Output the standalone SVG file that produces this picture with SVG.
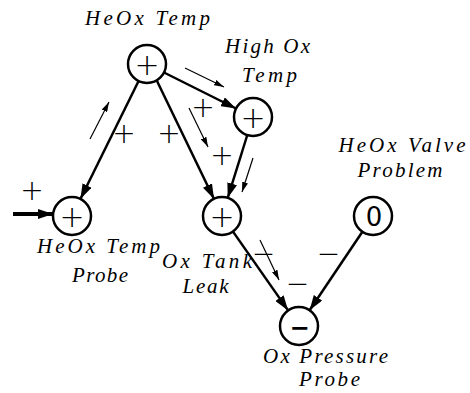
<svg xmlns="http://www.w3.org/2000/svg" width="470" height="393" viewBox="0 0 470 393">
<style>
.node circle{fill:#fff;stroke:#000;stroke-width:2.5}
.lbl{font-family:'Liberation Serif','DejaVu Sans',serif;font-style:italic;font-size:21px;fill:#000;text-anchor:middle}
.sym{font-family:'DejaVu Sans',sans-serif;font-weight:200;font-size:30px;fill:#000;text-anchor:middle}
.edge{stroke:#000;stroke-width:2.5;fill:none;marker-end:url(#big)}
.hint{stroke:#000;stroke-width:1.2;fill:none;marker-end:url(#small)}
.sign{font-family:'DejaVu Sans',sans-serif;font-weight:200;font-size:28px;fill:#000;text-anchor:middle}
</style>
<defs>
<marker id="big" markerUnits="userSpaceOnUse" markerWidth="16" markerHeight="10" refX="15" refY="5" orient="auto"><path d="M0,0 L15,5 L0,10 Z" fill="#000"/></marker>
<marker id="small" markerUnits="userSpaceOnUse" markerWidth="11" markerHeight="6" refX="10" refY="3" orient="auto"><path d="M0,0 L10,3 L0,6 Z" fill="#000"/></marker>
</defs>
<rect width="470" height="393" fill="#fff"/>
<g id="connectors">
<line class="edge" x1="138.6" y1="81" x2="80.4" y2="199"/>
<line class="edge" x1="157" y1="81" x2="214" y2="199"/>
<line class="edge" x1="164" y1="72.5" x2="236" y2="108.5"/>
<line class="edge" x1="247.3" y1="135" x2="227.7" y2="198"/>
<line class="edge" x1="233" y1="231.6" x2="288.1" y2="310.4"/>
<line class="edge" x1="362.4" y1="231.8" x2="309.6" y2="310.2"/>
<line x1="13" y1="214" x2="53" y2="214" stroke="#000" stroke-width="4" marker-end="url(#big)"/>
<line class="hint" x1="90" y1="139" x2="109" y2="102"/>
<line class="hint" x1="185" y1="68" x2="224" y2="87"/>
<line class="hint" x1="189" y1="108" x2="208" y2="147"/>
<line class="hint" x1="253" y1="158" x2="242" y2="192"/>
<line class="hint" x1="260" y1="240" x2="279" y2="280"/>
<text class="sign" x="124" y="143">+</text>
<text class="sign" x="169" y="143">+</text>
<text class="sign" x="203" y="117">+</text>
<text class="sign" x="222" y="165">+</text>
<text class="sign" x="32" y="200">+</text>
<text class="sign" x="263.5" y="262.5">−</text>
<text class="sign" x="297.5" y="293">−</text>
<text class="sign" x="328.5" y="262.5">−</text>
</g>
<g id="heox-temp" class="node">
<circle cx="147" cy="64" r="19"/>
<text class="sym" x="147" y="75">+</text>
<text class="lbl" x="147.5" y="25" textLength="125" lengthAdjust="spacing">HeOx Temp</text>
</g>
<g id="high-ox-temp" class="node">
<circle cx="253" cy="117" r="19"/>
<text class="sym" x="253" y="128">+</text>
<text class="lbl" x="267.5" y="53" textLength="85" lengthAdjust="spacing">High Ox</text>
<text class="lbl" x="269.5" y="82" textLength="55" lengthAdjust="spacing">Temp</text>
</g>
<g id="heox-temp-probe" class="node">
<circle cx="72" cy="216" r="19"/>
<text class="sym" x="72" y="227">+</text>
<text class="lbl" x="98.5" y="253" textLength="123" lengthAdjust="spacing">HeOx Temp</text>
<text class="lbl" x="100" y="282" textLength="56" lengthAdjust="spacing">Probe</text>
</g>
<g id="ox-tank-leak" class="node">
<circle cx="222" cy="216" r="19"/>
<text class="sym" x="222" y="227">+</text>
<text class="lbl" x="207" y="268" textLength="90" lengthAdjust="spacing">Ox Tank</text>
<text class="lbl" x="205.5" y="293" textLength="46" lengthAdjust="spacing">Leak</text>
</g>
<g id="heox-valve-problem" class="node">
<circle cx="373" cy="216" r="19"/>
<text x="374" y="225.5" style="font-family:'DejaVu Sans',sans-serif;font-size:26px;text-anchor:middle;fill:#000">0</text>
<text class="lbl" x="402" y="152" textLength="127" lengthAdjust="spacing">HeOx Valve</text>
<text class="lbl" x="400" y="177" textLength="85" lengthAdjust="spacing">Problem</text>
</g>
<g id="ox-pressure-probe" class="node">
<circle cx="299" cy="326" r="19"/>
<text x="299.5" y="336" style="font-family:'DejaVu Sans',sans-serif;font-weight:bold;font-size:24px;text-anchor:middle;fill:#000">−</text>
<text class="lbl" x="325.5" y="363" textLength="125" lengthAdjust="spacing">Ox Pressure</text>
<text class="lbl" x="329.5" y="386" textLength="61" lengthAdjust="spacing">Probe</text>
</g>
</svg>
